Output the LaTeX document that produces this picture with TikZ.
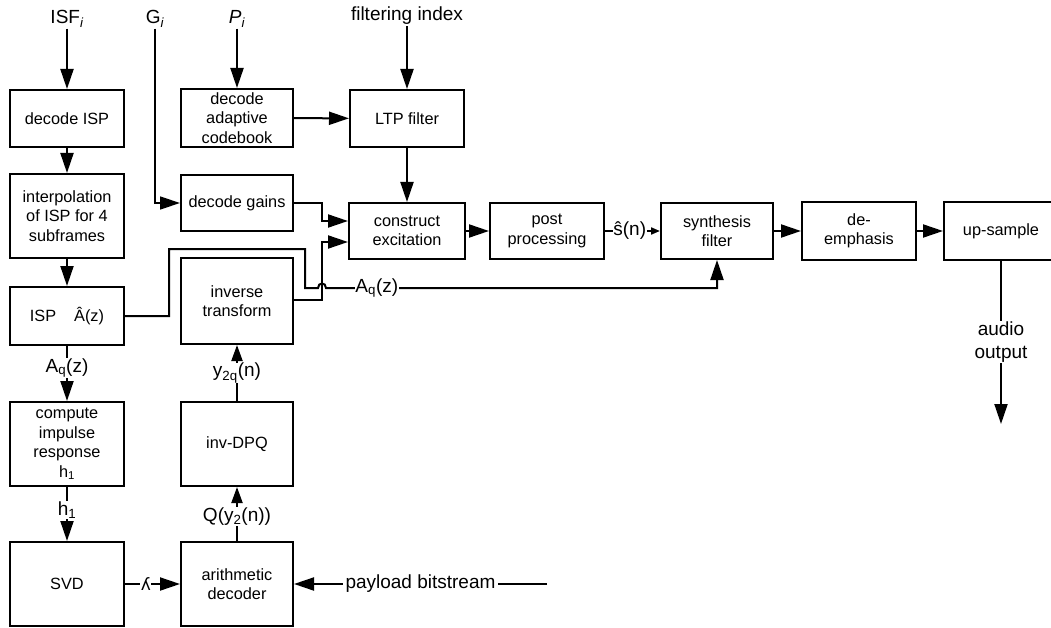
\documentclass[tikz,border=0pt]{standalone}
\usepackage{fontspec}
\setmainfont{Liberation Sans}
\newfontfamily\dejavu{DejaVu Sans}
\usetikzlibrary{arrows.meta}
\begin{document}
\begin{tikzpicture}[x=1pt,y=-1pt,
  blk/.style={draw,line width=2pt,align=center,inner sep=0pt,
    font=\fontsize{16.3}{19.5}\selectfont},
  lbl/.style={font=\fontsize{19}{23}\selectfont,inner sep=1pt,align=center},
  mid/.style={lbl,fill=white,inner sep=0.5pt},
  wire/.style={line width=2pt},
  arr/.style={wire,-{Triangle[length=20pt,width=13pt]}},
  arrs/.style={wire,-{Triangle[length=16pt,width=11pt]}},
  arrt/.style={wire,-{Triangle[length=9pt,width=7pt]}}
]
\useasboundingbox (0,0) rectangle (1051,628);
\clip (0,0) rectangle (1051,628);
% boxes
\node[blk,minimum width=114pt,minimum height=57pt] (dISP) at (67,118.5) {decode ISP};
\node[blk,minimum width=114pt,minimum height=84pt] (interp) at (67,216) {interpolation\\of ISP for 4\\subframes};
\node[blk,minimum width=114pt,minimum height=58pt] (ispA) at (67,316) {ISP\hspace{18pt}Â(z)};
\node[blk,minimum width=114pt,minimum height=84pt] (cir) at (67,444) {compute\\impulse\\response\\h\textsubscript{1}};
\node[blk,minimum width=114pt,minimum height=84pt] (svd) at (67,584) {SVD};
\node[blk,minimum width=112pt,minimum height=58pt] (dac) at (237,118) {decode\\adaptive\\codebook};
\node[blk,minimum width=112pt,minimum height=56pt] (dg) at (237,203) {decode gains};
\node[blk,minimum width=112pt,minimum height=86pt] (invt) at (237,301) {inverse\\transform};
\node[blk,minimum width=112pt,minimum height=84pt] (idpq) at (237,444) {inv-DPQ};
\node[blk,minimum width=112pt,minimum height=84pt] (arith) at (237,584) {arithmetic\\decoder};
\node[blk,minimum width=114pt,minimum height=57pt] (ltp) at (407,118.5) {LTP filter};
\node[blk,minimum width=116pt,minimum height=56pt] (ce) at (407,231) {construct\\excitation};
\node[blk,minimum width=114pt,minimum height=56pt] (pp) at (547,231) {post\\processing};
\node[blk,minimum width=112pt,minimum height=56pt] (sf) at (717,231) {synthesis\\filter};
\node[blk,minimum width=114pt,minimum height=57pt] (de) at (859,231) {de-\\emphasis};
\node[blk,minimum width=114pt,minimum height=57pt] (up) at (1001,231) {up-sample};
% top labels
\node[lbl] (isf) at (67,19) {ISF\textsubscript{\itshape i}};
\node[lbl] (gi) at (155,19) {G\textsubscript{\itshape i}};
\node[lbl] (pi) at (237,19) {\itshape P\textsubscript{i}};
\node[lbl] (fi) at (407,16) {filtering index};
\coordinate (gbend) at (155,203);
\coordinate (j1) at (322,203);
\coordinate (j2) at (322,300);
\coordinate (pay) at (547,584);
\coordinate (aout) at (1001,424);
% connectors
\draw[arr] (isf) -- (dISP);
\draw[line width=1.4pt,-{Triangle[length=20pt,width=13pt]}] (gi) -- (gbend) -- (dg.west);
\draw[arr] (pi) -- (dac);
\draw[arr] (fi) -- (ltp);
\draw[arr] (dISP) -- (interp);
\draw[arr] (interp) -- (ispA);
\draw[arr] (ispA) -- node[mid,pos=0.4] {A\textsubscript{q}(z)} (cir);
\draw[arr] (cir) -- node[mid,pos=0.43] {h\textsubscript{1}} (svd);
\draw[arrs] (arith) -- node[mid,pos=0.46] {Q(y\textsubscript{2}(n))} (idpq);
\draw[arrs] (idpq) -- node[mid,pos=0.5] {y\textsubscript{2q}(n)} (invt);
\draw[arr] (svd) -- node[mid,pos=0.38,font=\dejavu\fontsize{17}{17}\selectfont] {ʎ} (arith);
\draw[arr] (pay) -- node[mid,pos=0.5,inner xsep=3pt] {payload bitstream} (arith);
\draw[arr] (dac) -- (ltp);
\draw[arr] (ltp) -- (ce);
\draw[arr] (dg.east) -- (j1) -- (322,221) -- ([yshift=10pt]ce.west);
\draw[arr] (invt.east |- j2) -- (j2) -- (322,242) -- ([yshift=-11pt]ce.west);
\draw[arr] (ispA.east) -- (169,316) -- (169,249) -- (305,249) -- (305,288) -- (318,288)
  .. controls (318,282) and (326,282) .. (326,288)
  -- node[mid,pos=0.13] {A\textsubscript{q}(z)} (717,288) -- (sf.south);
\draw[arr] (ce) -- (pp);
\draw[arrt] (pp) -- node[mid,pos=0.45] {ŝ(n)} (sf);
\draw[arr] (sf) -- (de);
\draw[arr] (de) -- (up);
\draw[arr] (up.south) -- node[mid,pos=0.5] {audio\\output} (aout);
\end{tikzpicture}
\end{document}
